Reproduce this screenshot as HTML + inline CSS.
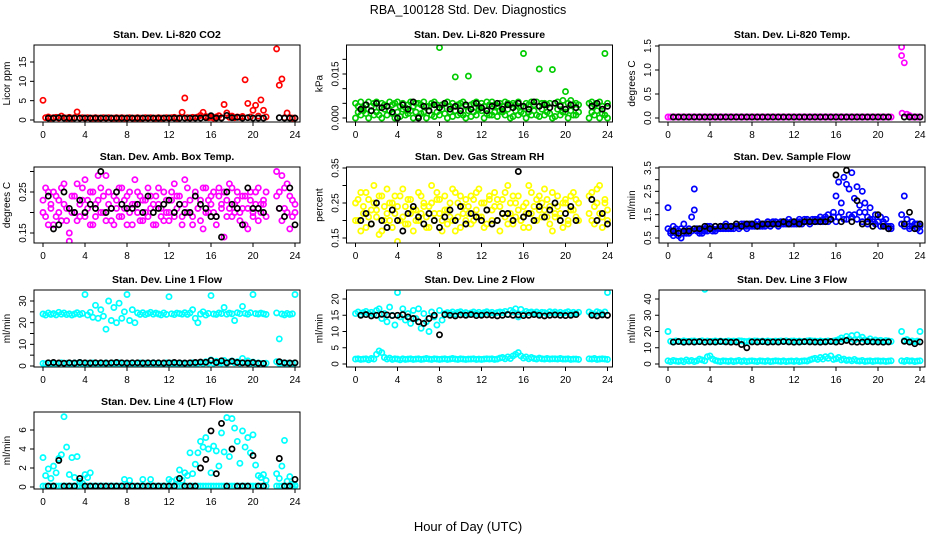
<!DOCTYPE html>
<html><head><meta charset="utf-8"><style>
html,body{margin:0;padding:0;background:#fff;}
svg{display:block;font-family:"Liberation Sans",sans-serif;}
</style></head><body>
<svg id="c" width="936" height="540" viewBox="0 0 936 540">
<text x="468" y="14" text-anchor="middle" font-size="12.5">RBA_100128  Std. Dev. Diagnostics</text>
<text x="468" y="531" text-anchor="middle" font-size="13">Hour of Day (UTC)</text>
</svg>
<script>
const xTickLabels=["0","4","8","12","16","20","24"];
const co2C=[5.1,.6,.8,.5, .6,.7,.5,1.0, .6,.5,.7,.5, .6,2.1,.5,.6, .5,.6,.5,.5, .6,.5,.5,.6, .5,.6,.5,.5, .6,.5,.6,.5, .5,.6,.5,.5, .6,.5,.5,.6, .5,.6,.5,.5, .6,.5,.5,.6, .5,.6,.7,.5, .5,2.0,5.7,.6, .5,.7,.6,.8, 1.2,2.0,.9,.6, .7,.5,.8,1.1, .6,4.0,1.8,.7, 1.0,.6,.8,.7, .9,10.4,4.3,.8, 2.5,3.8,1.0,5.2, 2.5,.8, 18.4,9.0,10.6,.6,1.8,.6,.5,.5];
const co2K=[.5,.5,.6,.5,.5,.5,.5,.5,.5,.5, .5,.5,.5,.5,.5,.5,.5,.5,.5,.5, .5,.5,.5,.5,.5,.5,.5,.5,.5,.5, .6,1.1,.5,.5,1.2,.6,.7,.5,.6,.5, .5,.5, .6,.5,.5,.5];
const presC=[5,4,5.5,3.5, 4.5,5.5,4,5, 5.5,3.5,5,4.5, 4,5.5,4.5,5, 5.5,4,5,3.5, 4.5,5.5,4,5, 5,4.5,5.5,4, 4,5,5.5,4.5, 24,4.5,5,5.5, 4,5,14,4.5, 5,5.5,4,14.3, 4.5,5,5.5,4, 5,4,5.5,4.5, 5.5,4.5,4,5, 4,5.5,5,4.5, 5,4.5,5.5,4, 22,5,4.5,5.5, 4.5,5.5,16.7,5, 5,4.5,5,16.5, 5,5.5,4.5,6, 9,5,6,4.5, 5,4.5, 5,5.5,4.5,5,5.5,4,22,5];
const presC2=[0,2,1,2.5, 1.5,0,2.5,1, 2,1,0,3, 1,2.5,1.5,0, 2,.5,3,1, 1.5,2.5,0,2, .5,1.5,2,0, 2.5,1,.5,2, 1,3,1.5,0, 2,.5,2.5,1, 1.5,1,0,2.5, .5,2,1,3, 2.5,0,1.5,1, 1,2,.5,2.5, 2,1,3,0, .5,2.5,1,2, 1.5,0,2,1, 2.5,1,.5,3, 1,2,1.5,0, .5,3,1,2, 2,0,2.5,1, 1,2, 0,2,1,2.5,0,1.5,1,0];
const presK=[3,4.5,2.5,5,3.5,4,2,0,4.5,3, 5.5,0,4,2.5,4.5,3.5,5,3,4,2.5, 4.5,3,5,3.5,2.5,4,5,3,4.5,3.5, 5,4,3,5.5,4,4.5,3.5,5,4,3, 4.5,3.5, 4,5,3,4];
const tempC=[.02,.02,.02,.02, .02,.02,.02,.02, .02,.02,.02,.02, .02,.02,.02,.02, .02,.02,.02,.02, .02,.02,.02,.02, .02,.02,.02,.02, .02,.02,.02,.02, .02,.02,.02,.02, .02,.02,.02,.02, .02,.02,.02,.02, .02,.02,.02,.02, .02,.02,.02,.02, .02,.02,.02,.02, .02,.02,.02,.02, .02,.02,.02,.02, .02,.02,.02,.02, .02,.02,.02,.02, .02,.02,.02,.02, .02,.02,.02,.02, .02,.02,.02,.02, .02,.02, 1.48,1.15,.08,.05,.02,.02,.02,.02];
const tempExtraH=[22.25,22.3];
const tempExtraV=[1.3,.1];
const tempK=[.02,.02,.02,.02,.02,.02,.02,.02,.02,.02, .02,.02,.02,.02,.02,.02,.02,.02,.02,.02, .02,.02,.02,.02,.02,.02,.02,.02,.02,.02, .02,.02,.02,.02,.02,.02,.02,.02,.02,.02, .02,.02, .02,.02,.02,.02];
const ambC=[.23,.19,.25,.21, .17,.24,.2,.26, .22,.18,.13,.24, .2,.27,.19,.23, .28,.21,.17,.25, .19,.23,.26,.2, .29,.22,.18,.24, .21,.26,.19,.23, .17,.25,.22,.28, .2,.24,.18,.23, .26,.21,.17,.24, .22,.19,.25,.2, .18,.23,.27,.21, .24,.19,.22,.26, .2,.17,.24,.21, .23,.16,.26,.2, .22,.25,.19,.24, .21,.14,.23,.27, .19,.22,.25,.2, .24,.17,.21,.23, .2,.25,.18,.22, .23,.19, .3,.25,.29,.21,.27,.16,.23,.2];
const ambC2=[.2,.26,.17,.22, .25,.19,.23,.18, .27,.21,.15,.2, .24,.18,.22,.26, .19,.23,.25,.17, .22,.29,.2,.24, .18,.25,.21,.17, .23,.19,.26,.21, .24,.2,.17,.22, .25,.18,.23,.2, .19,.24,.22,.17, .26,.21,.18,.23, .2,.25,.19,.24, .22,.17,.28,.2, .23,.19,.25,.21, .18,.26,.2,.23, .24,.2,.17,.26, .22,.25,.19,.21, .26,.2,.23,.18, .21,.24,.16,.25, .19,.22,.26,.2, .22,.25, .24,.21,.18,.26,.2,.24,.19,.22];
const ambK=[.24,.16,.17,.25,.21,.2,.23,.2,.22,.21, .3,.2,.21,.25,.22,.21,.21,.22,.2,.24, .2,.21,.22,.23,.2,.22,.2,.2,.24,.22, .21,.19,.19,.14,.25,.22,.21,.17,.26,.21, .21,.2, .21,.19,.26,.17];
const rhC=[.25,.2,.28,.22, .18,.26,.23,.3, .21,.27,.17,.24, .29,.2,.25,.22, .14,.27,.21,.24, .19,.26,.23,.2, .28,.22,.25,.18, .24,.3,.2,.26, .22,.17,.27,.23, .25,.2,.28,.21, .18,.24,.26,.22, .27,.2,.23,.29, .21,.25,.19,.26, .23,.28,.2,.24, .26,.21,.3,.22, .19,.25,.27,.2, .24,.22,.18,.28, .2,.26,.23,.25, .29,.21,.24,.17, .22,.27,.2,.25, .26,.19,.23,.28, .21,.25, .27,.2,.24,.29,.22,.18,.25,.23];
const rhC2=[.2,.26,.17,.24, .28,.21,.19,.25, .23,.16,.27,.2, .22,.25,.18,.27, .24,.2,.29,.19, .26,.22,.17,.23, .2,.27,.24,.21, .18,.25,.22,.28, .26,.2,.23,.19, .21,.29,.17,.25, .27,.22,.2,.24, .19,.26,.28,.21, .25,.18,.23,.27, .2,.24,.26,.17, .22,.28,.19,.25, .27,.21,.23,.2, .18,.25,.3,.22, .24,.2,.27,.21, .23,.26,.19,.28, .21,.24,.22,.18, .25,.2,.27,.23, .26,.2, .22,.28,.19,.25,.3,.21,.26,.2];
const rhK=[.2,.22,.19,.25,.2,.18,.23,.2,.17,.22, .24,.21,.19,.22,.2,.18,.21,.23,.2,.24, .19,.22,.21,.2,.23,.19,.2,.22,.22,.2, .34,.21,.22,.2,.24,.21,.23,.25,.2,.22, .24,.2, .26,.2,.22,.19];
const sfC=[1.8,.7,.6,.9, .8,.5,1.1,.7, .9,1.4,2.6,.8, .7,.9,.8,1.0, .9,.8,1.0,.9, 1.0,.9,1.1,.9, 1.0,.9,1.1,1.0, 1.0,1.1,.9,1.0, 1.1,1.0,1.2,1.0, 1.1,1.0,1.2,1.1, 1.1,1.2,1.0,1.1, 1.2,1.1,1.3,1.1, 1.2,1.1,1.3,1.2, 1.2,1.3,1.1,1.2, 1.3,1.2,1.4,1.2, 1.3,1.5,1.3,1.6, 2.3,2.9,1.6,3.1, 2.8,1.5,3.3,2.2, 2.7,1.9,2.5,1.6, 1.4,1.8,1.3,1.5, 1.2,1.4,1.1,1.3, 1.0,.9, 1.5,2.3,1.3,1.0,1.2,.9,1.1,.8];
const sfC2=[.9,.8,1.0,.7, .6,.9,.7,.8, .7,.8,1.7,.9, .8,.7,.9,.8, 1.0,.9,.8,.9, .9,1.0,.9,1.0, .9,1.0,1.0,.9, 1.1,1.0,1.0,1.1, 1.0,1.1,1.0,1.1, 1.0,1.1,1.1,1.0, 1.2,1.1,1.1,1.2, 1.1,1.2,1.1,1.2, 1.1,1.2,1.2,1.1, 1.3,1.2,1.2,1.3, 1.2,1.3,1.2,1.3, 1.4,1.2,1.3,1.4, 1.2,1.4,2.0,1.3, 1.3,2.6,1.4,1.5, 1.3,1.6,1.2,2.0, 1.1,1.3,1.2,1.1, 1.2,1.0,1.2,1.0, .9,1.0, 1.1,1.0,1.3,.9,1.0,1.1,.9,1.0];
const sfK=[.8,.7,.8,.8,.9,.9,1.0,.9,1.0,1.0, 1.0,1.0,1.1,1.0,1.1,1.1,1.0,1.1,1.1,1.1, 1.1,1.2,1.1,1.2,1.1,1.2,1.2,1.2, 1.2,1.2, 1.3,3.2,1.2,3.4,1.2,2.1,1.1,1.2,1.0,1.5, 1.0,.9, 1.1,1.6,.9,1.1];
const l1C=[24,23.5,24.5,23.8, 24.2,23.6,24.8,23.9, 24.5,23.7,24.1,23.5, 24,24.6,23.8,24.3, 33,23.5,24.8,22.5, 28,22,26,23, 17,30,21,27, 20,29,22,25, 33,21,26,20, 24.5,23.8,24.6,23.7, 24.2,24.8,23.9,24.4, 24,23.6,24.5,23.8, 32,24.1,23.7,24.4, 24.2,23.9,24.6,23.8, 24.5,26,22,20, 24,25,23.5,24.3, 32.5,24,23.8,24.5, 24.2,27,23.9,24.4, 24.1,21,24.6,24.2, 27.5,24.3,23.9,24.6, 33,24.2,24,24.4, 24.1,23.8, 24.5,12.5,24,23.6,24.3,23.8,24.1,33];
const l1C2=[1.2,1.0,1.4,1.1, 1.3,1.0,1.2,1.5, 1.1,1.3,1.0,1.2, 1.4,1.1,1.6,1.0, 1.2,1.3,1.1,1.4, 1.0,1.2,1.3,1.1, 1.5,1.0,1.2,1.3, 1.1,1.4,1.0,1.2, 1.3,1.1,1.5,1.0, 1.2,1.4,1.1,1.3, 1.0,1.2,1.5,1.1, 1.3,1.0,1.2,1.4, 1.1,1.3,1.0,1.2, 1.4,1.1,1.3,1.0, 1.2,1.5,1.1,1.3, 1.6,1.2,2.0,1.4, 2.8,1.3,2.2,1.5, 1.4,2.6,1.2,1.8, 2.3,1.5,2.0,1.3, 3.5,1.6,2.4,1.2, 1.8,1.1,1.4,1.2, 1.0,1.3, 2.0,1.2,1.5,1.1,1.3,1.0,1.2,1.4];
const l1K=[1.5,1.6,1.4,1.3,1.5,1.4,1.6,1.5,1.4,1.5, 1.5,1.4,1.5,1.6,1.5,1.4,1.5,1.5,1.4,1.5, 1.5,1.5,1.4,1.5,1.6,1.5,1.4,1.5,1.6,1.8, 1.7,2.6,1.6,2.4,1.5,2.2,1.6,1.5,1.4,1.6, 1.3,1.2, 2.0,1.5,1.4,1.5];
const l2C=[15.5,16,15.2,15.8, 16.2,15.5,15.9,15.3, 16.5,17,14,15.5, 13,17.5,15,12, 22,14.5,17,13.5, 15.5,12.5,16.5,14, 17,11,15.5,13, 10,16,14.5,12, 16.5,13.5,15.5,15.8, 15.6,16,15.4,15.9, 16.1,15.5,15.8,15.3, 15.7,16,15.5,15.9, 15.4,15.8,16.1,15.6, 15.9,15.5,15.8,16, 15.8,16.2,15.3,16.5, 16,17,14.5,16.8, 15.5,16.2,15.8,16, 15.7,16,15.5,15.9, 15.8,15.4,16.1,15.7, 16,15.6,15.9,15.5, 15.8,16.1,15.5,15.9, 15.6,15.9, 16,15.5,15.2,16.1,15.8,15.4,16,22];
const l2C2=[1.5,1.6,1.4,1.5, 1.6,1.3,1.7,1.5, 3.0,4.0,3.5,2.0, 1.5,1.8,1.4,1.6, 1.5,1.3,1.6,1.4, 1.5,1.6,1.4,1.5, 1.6,1.4,1.5,1.7, 1.5,1.4,1.6,1.5, 1.4,1.5,1.6,1.4, 1.5,1.7,1.5,1.4, 1.6,1.5,1.4,1.5, 1.5,1.6,1.4,1.5, 1.4,1.5,1.6,1.5, 1.6,1.4,1.5,1.8, 2.0,1.6,2.2,1.7, 2.5,3.0,3.5,2.5, 1.8,2.2,1.6,2.0, 1.7,1.5,1.8,1.6, 1.5,1.7,1.5,1.6, 1.6,1.5,1.7,1.5, 1.5,1.6,1.4,1.5, 1.5,1.4, 1.6,1.5,1.7,1.4,1.5,1.6,1.5,1.4];
const l2K=[15,15.2,14.8,15,15.3,15.1,14.9,15,15.2,14.5, 14,13,12.5,14,15,9,15.2,15,14.8,15.1, 15,15.2,14.9,15,15.1,15,14.8,15,15.2,15, 15.1,14.9,15,15.2,15,14.8,15,15.1,15,14.9, 15,15.2, 15,14.8,15.1,15];
const l3C=[20,14,13.5,14.2, 14,13.8,14.3,14, 13.9,14.1,14.2,13.8, 14,14.3,46,14.1, 13.8,14,14.2,13.9, 14.1,13.8,14,14.2, 14,14.1,13.9,14.3, 14.2,14,13.8,14.1, 14,14.2,14.1,13.9, 14.1,13.9,14.2,14, 13.8,14.1,14,14.2, 14,14.3,13.9,14.1, 14.2,14,14.1,13.8, 14,14.2,14.4,14.1, 14.1,14,14.2,13.9, 14,14.2,13.9,14.1, 14.5,15,16,14.8, 17,15.5,17.5,14.6, 18,15.2,16.5,14.8, 14.5,15.5,14.2,14.8, 14.3,14.6,14,14.4, 14.2,13.9, 20,14.5,15,14,14.2,13.8,14.1,20];
const l3C2=[2,1.5,2.2,1.8, 1.6,2,1.4,2.5, 1.8,2.2,1.5,2, 3,2.5,2,4.5, 5,3,2.2,1.8, 1.5,2,1.8,1.6, 2,1.5,1.8,2.2, 1.6,2,1.5,1.8, 2,1.7,1.5,2, 1.8,1.6,2,1.5, 1.7,2,1.8,1.6, 2,1.5,1.7,1.9, 1.6,2,1.5,1.8, 2,1.8,2.5,3, 3.5,2.8,4,3, 4.5,3.5,5,2.8, 3.2,4,2.5,3, 2.2,2.5,2,2.8, 2,1.8,2.2,1.6, 1.8,2,1.6,1.9, 2,1.7,1.9,1.6, 1.8,2, 2,1.6,2.2,1.8,2,1.5,1.8,2];
const l3K=[13.5,13.8,13.4,13.6,13.5,13.7,13.4,13.6,13.5,13.8, 13.6,13.4,13.5,12,10,13.6,13.5,13.7,13.4,13.6, 13.5,13.8,13.6,13.4,13.5,13.7,13.6,13.5,13.4,13.6, 13.8,13.5,13.7,14.5,13.6,13.4,13.5,13.7,13.6,13.5, 13.4,13.6, 14,13.5,12.5,13.6];
const l4C=[.1,.1,.1,.1, .1,.1,.1,.1, .1,.1,.1,.1, .1,.1,.1,.1, .1,.1,.1,.1, .1,.1,.1,.1, .1,.1,.1,.1, .1,.1,.1,.1, .1,.1,.1,.1, .1,.1,.1,.1, .1,.1,.1,.1, .1,.1,.1,.1, .1,.1,.1,.1, .1,.1,.1,.1, .1,.1,.1,.1, .1,.1,.1,.1, .1,.1,.1,.1, .1,.1,.1,.1, .1,.1,.1,.1, .1,.1,.1,.1, .1,.1,.1,.1, .1,.1, .1,.1,.1,.1,.1,.1,.1,.1];
const l4C2=[3.1,1.2,1.9,0.9, 2.2,1.5,3.0,3.4, 7.4,4.2,1.3,3.1, 1.0,3.2,0.6,0.4, 1.3,1.0,1.5,null, null,null,null,null, null,null,null,null, null,null,null,0.8, null,0.7,null,null, null,null,0.8,null, null,0.8,null,null, null,null,null,null, 0.8,0.6,null,0.8, 1.8,0.7,1.5,1.2, 3.6,1.4,2.4,3.6, 4.8,4.2,5.2,4.0, 1.5,4.3,3.8,2.2, 5.7,3.7,7.3,3.2, 7.2,6.2,4.8,2.5, 5.9,4.2,5.2,3.6, 5.5,2.3,1.2,1.0, 1.3,0.7, 1.4,0.9,2.2,4.9,0.6,1.1,0.3,0.2];
const l4K=[0.1,0.1,2.8,0.1,0.1,0.1,0.9,0.1,0.1,0.1, 0.1,0.1,0.1,0.1,0.1,0.1,0.1,0.1,0.1,0.1, 0.1,0.1,0.1,0.1,0.1,0.9,0.1,0.1,0.1,2.0, 2.9,5.9,1.4,6.7,0.1,4.0,0.1,0.1,0.1,3.3, 0.1,0.1, 3.0,0.1,0.1,0.8];

const hoursC=[];for(let i=0;i<86;i++)hoursC.push(i*0.25);for(let i=0;i<8;i++)hoursC.push(22.25+i*0.25);
const hoursK=[];for(let i=1;i<=42;i++)hoursK.push(i*0.5);for(let i=0;i<4;i++)hoursK.push(22.5+i*0.5);

const RED="#ff0000",GRN="#00cc00",MAG="#ff00ff",YEL="#ffff00",BLU="#0000ff",CYA="#00ffff",BLK="#000000";
const rows=[[45,122],[167,243],[290,367],[412,489]];
const panels=[
{id:"co2",title:"Stan. Dev. Li-820 CO2",ylab:"Licor ppm",col:0,row:0,yv:[0,15],yp:[120,62],ticks:[0,5,10,15],tl:["0","5","10","15"],s:[[hoursC,co2C,RED],[hoursK,co2K,BLK]]},
{id:"pressure",title:"Stan. Dev. Li-820 Pressure",ylab:"kPa",col:1,row:0,yv:[0,15],yp:[118,74],ticks:[0,5,10,15,20],tl:["0.000","","","0.015",""],s:[[hoursC,presC2,GRN],[hoursC,presC,GRN],[hoursK,presK,BLK]]},
{id:"temp",title:"Stan. Dev. Li-820 Temp.",ylab:"degrees C",col:2,row:0,yv:[0,1.5],yp:[118,46],ticks:[0,.5,1,1.5],tl:["0.0","0.5","1.0","1.5"],s:[[hoursC,tempC,MAG],[tempExtraH,tempExtraV,MAG],[hoursK,tempK,BLK]]},
{id:"amb-box-temp",title:"Stan. Dev. Amb. Box Temp.",ylab:"degrees C",col:0,row:1,yv:[.15,.25],yp:[233,192],ticks:[.15,.2,.25,.3],tl:["0.15","","0.25",""],s:[[hoursC,ambC,MAG],[hoursC,ambC2,MAG],[hoursK,ambK,BLK]]},
{id:"gas-rh",title:"Stan. Dev. Gas Stream RH",ylab:"percent",col:1,row:1,yv:[.15,.35],yp:[238,168],ticks:[.15,.2,.25,.3,.35],tl:["0.15","","0.25","","0.35"],s:[[hoursC,rhC,YEL],[hoursC,rhC2,YEL],[hoursK,rhK,BLK]]},
{id:"sample-flow",title:"Stan. Dev. Sample Flow",ylab:"ml/min",col:2,row:1,yv:[.5,3.5],yp:[238,168],ticks:[.5,1,1.5,2,2.5,3,3.5],tl:["0.5","","1.5","","2.5","","3.5"],s:[[hoursC,sfC,BLU],[hoursC,sfC2,BLU],[hoursK,sfK,BLK]]},
{id:"line1-flow",title:"Stan. Dev. Line 1 Flow",ylab:"ml/min",col:0,row:2,yv:[0,30],yp:[366,301],ticks:[0,5,10,15,20,25,30],tl:["0","","10","","20","","30"],s:[[hoursC,l1C,CYA],[hoursC,l1C2,CYA],[hoursK,l1K,BLK]]},
{id:"line2-flow",title:"Stan. Dev. Line 2 Flow",ylab:"ml/min",col:1,row:2,yv:[0,20],yp:[364,299],ticks:[0,5,10,15,20],tl:["0","5","10","15","20"],s:[[hoursC,l2C,CYA],[hoursC,l2C2,CYA],[hoursK,l2K,BLK]]},
{id:"line3-flow",title:"Stan. Dev. Line 3 Flow",ylab:"ml/min",col:2,row:2,yv:[0,40],yp:[364,299],ticks:[0,10,20,30,40],tl:["0","10","20","30","40"],s:[[hoursC,l3C,CYA],[hoursC,l3C2,CYA],[hoursK,l3K,BLK]]},
{id:"line4-flow",title:"Stan. Dev. Line 4 (LT) Flow",ylab:"ml/min",col:0,row:3,yv:[0,6],yp:[487,430],ticks:[0,2,4,6],tl:["0","2","4","6"],s:[[hoursC,l4C,CYA],[hoursC,l4C2,CYA],[hoursK,l4K,BLK]]}
];
const NS="http://www.w3.org/2000/svg";
const svg=document.getElementById("c");
function mk(tag,attrs,parent){const e=document.createElementNS(NS,tag);for(const k in attrs)e.setAttribute(k,attrs[k]);parent.appendChild(e);return e;}
panels.forEach(p=>{
  const x0=43+p.col*312.5;
  const xs=h=>x0+h*10.5;
  const ys=v=>p.yp[0]+(v-p.yv[0])*(p.yp[1]-p.yp[0])/(p.yv[1]-p.yv[0]);
  const [top,bot]=rows[p.row];
  const L=x0-9,R=x0+257;
  const g=mk("g",{},svg);
  
  
  const t=mk("text",{x:(L+R)/2,y:top-7,"text-anchor":"middle","font-size":"10.5","font-weight":"bold"},g);
  t.textContent=p.title;
  
  
  const clip=mk("clipPath",{id:"cl-"+p.id},g);
  mk("rect",{x:L,y:top,width:R-L,height:bot-top},clip);
  const pts=mk("g",{"clip-path":"url(#cl-"+p.id+")"},g);
  
  
  p.s.forEach(([H,V,col])=>{
    V.forEach((v,i)=>{
      if(v===null||v===undefined||H[i]===undefined)return;
      const c=mk("circle",{cx:xs(H[i]).toFixed(1),cy:ys(v).toFixed(1),r:2.6,fill:"none",stroke:col,"stroke-width":1.7},pts);
      
      
    });
  });
  const box=mk("rect",{x:L,y:top,width:R-L,height:bot-top,fill:"none",stroke:"#000","stroke-width":1},g);
  
  
  xTickLabels.forEach(l=>{
    const x=xs(+l);
    mk("line",{x1:x,y1:bot,x2:x,y2:bot+4,stroke:"#000"},g);
    const tx=mk("text",{x:x,y:bot+16,"text-anchor":"middle","font-size":"10"},g);
    tx.textContent=l;
    
    
  });
  p.ticks.forEach((v,i)=>{
    const y=ys(v);
    mk("line",{x1:L,y1:y,x2:L-4,y2:y,stroke:"#000"},g);
    if(p.tl[i]){
      const ty=mk("text",{x:L-8,y:y,"text-anchor":"middle","font-size":"10",transform:`rotate(-90 ${L-8} ${y})`},g);
      ty.textContent=p.tl[i];
      
      
    }
  });
  const yc=(top+bot)/2;
  const yl=mk("text",{x:L-24,y:yc,"text-anchor":"middle","font-size":"10",transform:`rotate(-90 ${L-24} ${yc})`},g);
  yl.textContent=p.ylab;
  
  
});
</script>
</body></html>
